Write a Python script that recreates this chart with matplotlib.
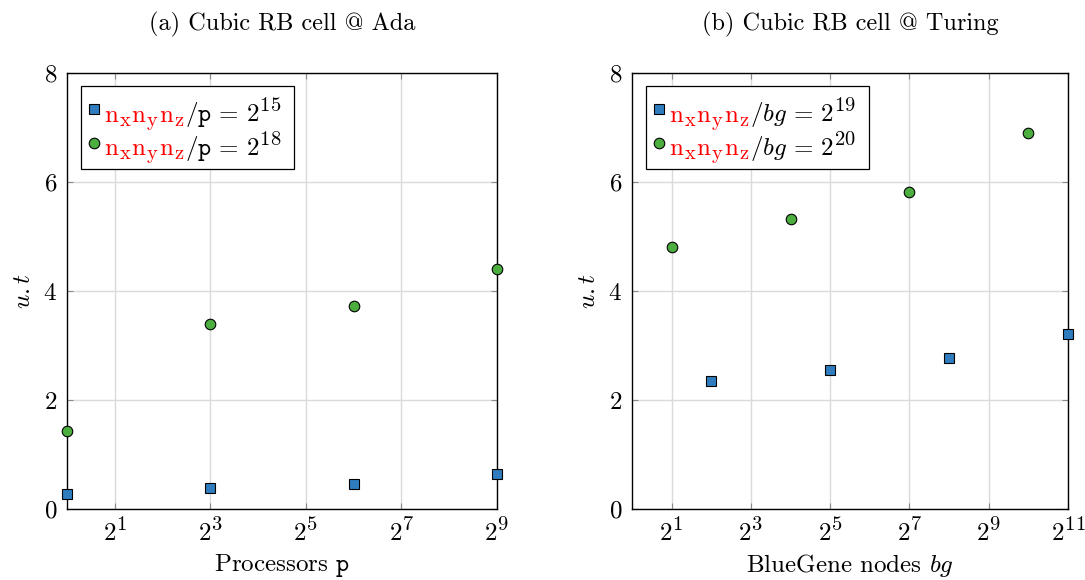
import matplotlib
matplotlib.use("Agg")
import matplotlib.pyplot as plt
import matplotlib._mathtext as mathtext_impl
from matplotlib.lines import Line2D
from matplotlib.offsetbox import (AnchoredOffsetbox, DrawingArea, HPacker,
                                  TextArea, VPacker)

plt.rcParams.update({
    "font.family": ["cmr10", "DejaVu Serif"],
    "mathtext.fontset": "cm",
    "axes.formatter.use_mathtext": True,
})
# the source figure uses larger sub/superscripts than mathtext's default 0.7
mathtext_impl.SHRINK_FACTOR = 0.82

# ── data ────────────────────────────────────────────────────
ada_p = [1, 8, 64, 512]
ada_ut_2p15 = [0.27, 0.38, 0.45, 0.65]
ada_ut_2p18 = [1.44, 3.39, 3.73, 4.41]

turing_bg_2p19 = [4, 32, 256, 2048]
turing_ut_2p19 = [2.34, 2.55, 2.77, 3.21]
turing_bg_2p20 = [2, 16, 128, 1024]
turing_ut_2p20 = [4.80, 5.33, 5.82, 6.90]

ada_tick_exp = [1, 3, 5, 7, 9]
turing_tick_exp = [1, 3, 5, 7, 9, 11]
y_ticks = [0, 2, 4, 6, 8]

red_part = r"$\mathrm{n_xn_yn_z}$"
ada_labels = [r"$/\mathtt{p}\,=\,2^{15}$", r"$/\mathtt{p}\,=\,2^{18}$"]
turing_labels = [r"$/bg\,=\,2^{19}$", r"$/bg\,=\,2^{20}$"]

BLUE = "#2f7dbf"
GREEN = "#4cae3f"
MS = 7.6
LEG_FS = 18.0


def two_colour_legend(ax, rows):
    """pgfplots-style legend: red prefix + black suffix on each line."""
    lines = []
    for marker, color, suffix in rows:
        da = DrawingArea(14.5, 12, 0, 0)
        da.add_artist(Line2D([7.0], [9.4], marker=marker, ms=MS,
                             ls="", mfc=color, mec="black", mew=0.8))
        red = TextArea(red_part, textprops=dict(color="red", fontsize=LEG_FS))
        blk = TextArea(suffix, textprops=dict(color="black", fontsize=LEG_FS))
        tail = DrawingArea(7, 1, 0, 0)
        lines.append(HPacker(children=[da, red, blk, tail], align="baseline",
                             pad=0, sep=0))
    rows_box = VPacker(children=lines, align="left", pad=0, sep=-1.5)
    box = VPacker(children=[DrawingArea(1, 5.7), rows_box], align="left",
                  pad=0, sep=0)
    anc = AnchoredOffsetbox(loc="upper left", child=box, pad=0.17,
                            borderpad=0, frameon=True,
                            bbox_to_anchor=(14 / 430, 1 - 13 / 436),
                            bbox_transform=ax.transAxes,
                            prop=dict(size=12))
    anc.patch.set_boxstyle("square,pad=0")
    anc.patch.set_edgecolor("black")
    anc.patch.set_linewidth(0.9)
    ax.add_artist(anc)


def style(ax, exps, xmax):
    ax.set_xscale("log", base=2)
    ax.set_xlim(1, xmax)
    ax.set_ylim(0, 8)
    ax.set_xticks([2 ** e for e in exps])
    ax.set_xticklabels([rf"$2^{{{e}}}$" for e in exps])
    ax.xaxis.set_minor_locator(matplotlib.ticker.NullLocator())
    ax.set_yticks(y_ticks)
    ax.tick_params(axis="both", which="major", direction="in", length=4,
                   color="#8a8a8a", labelsize=18, top=True, right=True,
                   pad=7)
    ax.grid(True, color="#dadada", linewidth=1.0)
    ax.set_axisbelow(True)
    for s in ax.spines.values():
        s.set_linewidth(1.0)
    ax.set_ylabel(r"$u.t$", fontsize=18, labelpad=6)


fig = plt.figure(figsize=(10.85, 5.8), dpi=100)
ax1 = fig.add_axes([67 / 1085, 71 / 580, 430 / 1085, 436 / 580])
ax2 = fig.add_axes([632 / 1085, 71 / 580, 436 / 1085, 436 / 580])

# ── (a) Ada ─────────────────────────────────────────────────
ax1.plot(ada_p, ada_ut_2p15, "s", ms=MS, mfc=BLUE, mec="black", mew=0.8,
         clip_on=False, zorder=5)
ax1.plot(ada_p, ada_ut_2p18, "o", ms=MS, mfc=GREEN, mec="black", mew=0.8,
         clip_on=False, zorder=5)
style(ax1, ada_tick_exp, 2 ** 9)
ax1.set_xlabel(r"Processors $\mathtt{p}$", fontsize=18, labelpad=4)
ax1.set_title("(a) Cubic RB cell @ Ada", fontsize=17.5, pad=31)
two_colour_legend(ax1, [("s", BLUE, ada_labels[0]),
                        ("o", GREEN, ada_labels[1])])

# ── (b) Turing ──────────────────────────────────────────────
ax2.plot(turing_bg_2p19, turing_ut_2p19, "s", ms=MS, mfc=BLUE, mec="black",
         mew=0.8, clip_on=False, zorder=5)
ax2.plot(turing_bg_2p20, turing_ut_2p20, "o", ms=MS, mfc=GREEN, mec="black",
         mew=0.8, clip_on=False, zorder=5)
style(ax2, turing_tick_exp, 2 ** 11)
ax2.set_xlabel(r"BlueGene nodes $bg$", fontsize=18, labelpad=4)
ax2.set_title("(b) Cubic RB cell @ Turing", fontsize=17.5, pad=31)
two_colour_legend(ax2, [("s", BLUE, turing_labels[0]),
                        ("o", GREEN, turing_labels[1])])

fig.savefig("out.png", dpi=100)
